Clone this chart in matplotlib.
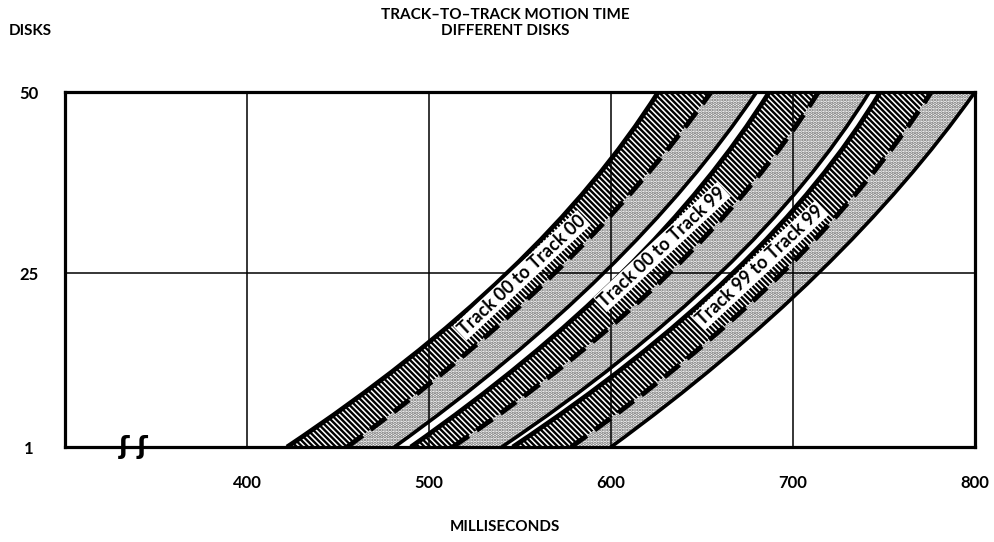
import matplotlib
matplotlib.use("Agg")
import matplotlib.pyplot as plt
from matplotlib.path import Path
from matplotlib.patches import PathPatch

plt.rcParams["font.family"] = ["Lato", "DejaVu Sans"]
plt.rcParams["hatch.linewidth"] = 1.7

# ── data (milliseconds at 1, 25 and 50 disks) ────────────────────────────────
disks = [1, 25, 50]

b1_left = [422, 543, 626]
b1_dash = [455, 569, 655]
b1_right = [481, 596, 680]

b2_left = [490, 606, 687]
b2_dash = [513, 632, 714]
b2_right = [540, 660, 742]

b3_left = [546, 667, 748]
b3_dash = [578, 694, 776]
b3_right = [600, 714, 800]

band_labels = ["Track 00 to Track 00", "Track 00 to Track 99", "Track 99 to Track 99"]
label_pos = [(551, 24.7), (628, 28.6), (682, 26.1)]

x_ticks = [400, 500, 600, 700, 800]
y_ticks = [1, 25, 50]
x_grid = [400, 500, 600, 700]
y_grid = [25]


def _curve(xs, ys):
    """Quadratic Bezier through three read points."""
    cx = 2 * xs[1] - (xs[0] + xs[2]) / 2
    cy = 2 * ys[1] - (ys[0] + ys[2]) / 2
    return [(xs[0], ys[0]), (cx, cy), (xs[2], ys[2])]


def _line_path(xs):
    return Path(_curve(xs, disks), [Path.MOVETO, Path.CURVE3, Path.CURVE3])


def _area_path(xa, xb):
    va = _curve(xa, disks)
    vb = _curve(xb[::-1], disks[::-1])
    codes = [Path.MOVETO, Path.CURVE3, Path.CURVE3,
             Path.LINETO, Path.CURVE3, Path.CURVE3, Path.CLOSEPOLY]
    return Path(va + vb + [va[0]], codes)


fig = plt.figure(figsize=(9.95, 5.42), dpi=100)
ax = fig.add_axes([65 / 995, 1 - 447 / 542, 910 / 995, 355 / 542])
ax.set_xlim(300, 800)
ax.set_ylim(1, 50)

# grid
for gx in x_grid:
    ax.axvline(gx, color="black", lw=1.1, zorder=2)
for gy in y_grid:
    ax.axhline(gy, color="black", lw=1.1, zorder=2)

bands = [(b1_left, b1_dash, b1_right), (b2_left, b2_dash, b2_right),
         (b3_left, b3_dash, b3_right)]

for left, dash, right in bands:
    # dark diagonal hatch between left edge and dashed line
    ax.add_patch(PathPatch(_area_path(left, dash), facecolor="white",
                           edgecolor="black", lw=0, hatch="\\\\\\\\\\\\",
                           zorder=1))
    # light stipple between dashed line and right edge
    ax.add_patch(PathPatch(_area_path(dash, right), facecolor="white",
                           edgecolor="#6a6a6a", lw=0, hatch=".....",
                           zorder=1))
    ax.add_patch(PathPatch(_line_path(left), fill=False, edgecolor="black",
                           lw=3.4, zorder=3, capstyle="butt"))
    ax.add_patch(PathPatch(_line_path(right), fill=False, edgecolor="black",
                           lw=2.6, zorder=3, capstyle="butt"))
    ax.add_patch(PathPatch(_line_path(dash), fill=False, edgecolor="black",
                           lw=3.5, linestyle=(0, (4, 2)), zorder=3,
                           capstyle="butt"))

for txt, (lx, ly) in zip(band_labels, label_pos):
    ax.text(lx, ly, txt, rotation=43, rotation_mode="anchor",
            ha="center", va="center", fontsize=13, fontweight="bold",
            zorder=4,
            bbox=dict(boxstyle="square,pad=0.08", fc="white", ec="none"))

# axis break mark on the bottom axis
ax.text(338, 1, "ʃ ʃ", ha="center", va="center", fontsize=18,
        fontweight="bold", family="DejaVu Sans", zorder=5, clip_on=False)

for s in ax.spines.values():
    s.set_linewidth(2.3)
    s.set_zorder(5)

ax.set_xticks(x_ticks)
ax.set_xticklabels([str(v) for v in x_ticks], fontsize=12, fontweight="bold")
ax.set_yticks(y_ticks)
ax.set_yticklabels([str(v) for v in y_ticks], fontsize=12, fontweight="bold")
ax.tick_params(axis="both", length=0)
ax.tick_params(axis="x", pad=20)
ax.tick_params(axis="y", pad=26)
for lbl in ax.get_yticklabels():
    lbl.set_horizontalalignment("center")

fig.text(30 / 995, 1 - 31 / 542, "DISKS", ha="center", va="center",
         fontsize=11, fontweight="bold")
fig.text(505 / 995, 1 - 15 / 542, "TRACK\u2013TO\u2013TRACK MOTION TIME",
         ha="center", va="center", fontsize=11, fontweight="bold")
fig.text(505 / 995, 1 - 31 / 542, "DIFFERENT DISKS", ha="center",
         va="center", fontsize=11, fontweight="bold")
fig.text(505 / 995, 1 - 527 / 542, "MILLISECONDS", ha="center", va="center",
         fontsize=11, fontweight="bold")

fig.savefig("out.png", dpi=100)
